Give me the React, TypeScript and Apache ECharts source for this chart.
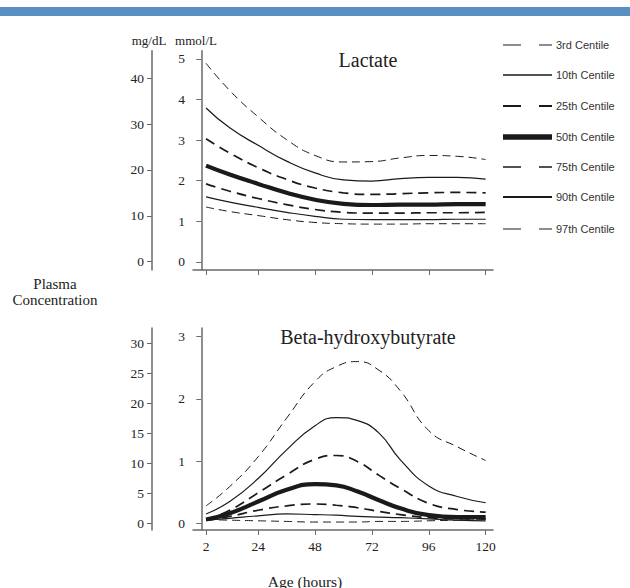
import React, { useEffect, useRef } from "react";
import * as echarts from "echarts";

const lacHours = [2, 12, 24, 36, 48, 60, 72, 84, 96, 108, 120];
const bhbHours = [2, 12, 24, 36, 48, 57, 66, 75, 84, 96, 108, 120];
const xTicks = [2, 24, 48, 72, 96, 120];
const centileNames = ["3rd Centile", "10th Centile", "25th Centile", "50th Centile", "75th Centile", "90th Centile", "97th Centile"];

// Lactate (mmol/L)
const lac3 = [1.35, 1.24, 1.14, 1.04, 0.97, 0.94, 0.93, 0.93, 0.94, 0.94, 0.94];
const lac10 = [1.6, 1.47, 1.34, 1.22, 1.12, 1.05, 1.04, 1.04, 1.04, 1.05, 1.05];
const lac25 = [1.92, 1.74, 1.56, 1.41, 1.29, 1.22, 1.2, 1.2, 1.21, 1.21, 1.22];
const lac50 = [2.37, 2.15, 1.92, 1.7, 1.53, 1.43, 1.4, 1.41, 1.41, 1.42, 1.42];
const lac75 = [3.03, 2.68, 2.32, 2.03, 1.82, 1.7, 1.66, 1.68, 1.7, 1.71, 1.7];
const lac90 = [3.79, 3.3, 2.87, 2.48, 2.19, 2.02, 1.99, 2.05, 2.08, 2.08, 2.04];
const lac97 = [4.89, 4.22, 3.57, 3.01, 2.62, 2.46, 2.47, 2.56, 2.62, 2.6, 2.52];

// Beta-hydroxybutyrate (mmol/L)
const bhb3 = [0.06, 0.05, 0.04, 0.03, 0.02, 0.02, 0.02, 0.03, 0.03, 0.04, 0.05, 0.06];
const bhb10 = [0.05, 0.08, 0.12, 0.15, 0.14, 0.13, 0.11, 0.1, 0.09, 0.07, 0.05, 0.04];
const bhb25 = [0.05, 0.11, 0.21, 0.28, 0.31, 0.29, 0.25, 0.19, 0.14, 0.09, 0.07, 0.07];
const bhb50 = [0.06, 0.16, 0.35, 0.54, 0.63, 0.61, 0.51, 0.37, 0.24, 0.13, 0.1, 0.1];
const bhb75 = [0.06, 0.21, 0.49, 0.78, 1.03, 1.09, 0.99, 0.77, 0.56, 0.32, 0.22, 0.18];
const bhb90 = [0.15, 0.35, 0.72, 1.18, 1.57, 1.7, 1.65, 1.45, 1.02, 0.6, 0.43, 0.33];
const bhb97 = [0.28, 0.59, 1.07, 1.69, 2.28, 2.52, 2.6, 2.46, 2.13, 1.49, 1.23, 1.01];

const lacMmolTicks = [0, 1, 2, 3, 4, 5];
const lacMgTicks = [0, 10, 20, 30, 40];
const bhbMmolTicks = [0, 1, 2, 3];
const bhbMgTicks = [0, 5, 10, 15, 20, 25, 30];

const lactate = [lac3, lac10, lac25, lac50, lac75, lac90, lac97];
const bhb = [bhb3, bhb10, bhb25, bhb50, bhb75, bhb90, bhb97];

const SERIF_NAME = "Liberation Serif";
const SERIF = '"Liberation Serif", "Times New Roman", serif';
const SANS = '"Liberation Sans", Arial, sans-serif';
const LINE = "#1a1a1a";
const AXIS = "#6a6a6a";

const widths = [1, 1.2, 1.7, 4.2, 1.7, 1.2, 1];
const types: any[] = [[8, 5], "solid", [10, 6], "solid", [10, 6], "solid", [8, 5]];
const legendWidths = [1, 1.5, 2, 5.5, 1.5, 2, 1];
const legendTypes: any[] = [[18, 18], null, [18, 18], null, [18, 18], null, [18, 18]];
const legendY = [45, 75, 106, 137, 167, 197, 229];

function yAxisBase(gridIndex: number, min: number, max: number, ticks: number[], offset: number) {
  return {
    type: "value",
    gridIndex,
    position: "left",
    offset,
    min,
    max,
    splitLine: { show: false },
    axisLine: { show: true, lineStyle: { color: AXIS, width: 1.5 } },
    axisTick: { show: true, length: 5, lineStyle: { color: AXIS, width: 1 }, customValues: ticks },
    axisLabel: { show: true, margin: 8, color: "#222", fontFamily: SERIF_NAME, fontSize: 13.5, customValues: ticks },
  };
}

function xAxisBase(gridIndex: number, showLabels: boolean) {
  return {
    type: "value",
    gridIndex,
    min: -3.5,
    max: 123.1,
    splitLine: { show: false },
    axisLine: { show: true, onZero: false, lineStyle: { color: AXIS, width: 1.5 } },
    axisTick: { show: true, length: 5, lineStyle: { color: AXIS, width: 1 }, customValues: xTicks },
    axisLabel: { show: showLabels, margin: 9, color: "#222", fontFamily: SERIF_NAME, fontSize: 13.5, customValues: xTicks },
  };
}

export default function App() {
  const ref = useRef<HTMLDivElement>(null);
  useEffect(() => {
    if (!ref.current) return;
    const chart = echarts.init(ref.current, null, { renderer: "svg" });
    const series: any[] = [];
    lactate.forEach((vals, i) => {
      series.push({
        type: "line",
        name: "Lactate " + centileNames[i],
        xAxisIndex: 0,
        yAxisIndex: 0,
        smooth: 0.5,
        showSymbol: false,
        silent: true,
        data: lacHours.map((h, k) => [h, vals[k]]),
        lineStyle: { color: LINE, width: widths[i], type: types[i] },
      });
    });
    bhb.forEach((vals, i) => {
      series.push({
        type: "line",
        name: "BHB " + centileNames[i],
        xAxisIndex: 1,
        yAxisIndex: 2,
        smooth: 0.5,
        showSymbol: false,
        silent: true,
        data: bhbHours.map((h, k) => [h, vals[k]]),
        lineStyle: { color: LINE, width: widths[i], type: types[i] },
      });
    });
    series.push({ type: "line", xAxisIndex: 0, yAxisIndex: 1, data: [], showSymbol: false });
    series.push({ type: "line", xAxisIndex: 1, yAxisIndex: 3, data: [], showSymbol: false });

    const graphics: any[] = [
      { type: "rect", shape: { x: 0, y: 7, width: 630, height: 9 }, style: { fill: "#5a8fc3" }, silent: true },
      { type: "text", x: 149, y: 40, style: { text: "mg/dL", font: `13px ${SERIF}`, fill: "#222", align: "center", verticalAlign: "middle" } },
      { type: "text", x: 196, y: 40, style: { text: "mmol/L", font: `13px ${SERIF}`, fill: "#222", align: "center", verticalAlign: "middle" } },
      { type: "text", x: 368, y: 60, style: { text: "Lactate", font: `20px ${SERIF}`, fill: "#222", align: "center", verticalAlign: "middle" } },
      { type: "text", x: 368, y: 337, style: { text: "Beta-hydroxybutyrate", font: `20px ${SERIF}`, fill: "#222", align: "center", verticalAlign: "middle" } },
      { type: "text", x: 55, y: 284, style: { text: "Plasma", font: `15px ${SERIF}`, fill: "#222", align: "center", verticalAlign: "middle" } },
      { type: "text", x: 55, y: 300, style: { text: "Concentration", font: `15px ${SERIF}`, fill: "#222", align: "center", verticalAlign: "middle" } },
      { type: "text", x: 305, y: 581, style: { text: "Age (hours)", font: `15.5px ${SERIF}`, fill: "#222", align: "center", verticalAlign: "middle" } },
    ];
    centileNames.forEach((name, i) => {
      const style: any = { stroke: LINE, lineWidth: legendWidths[i] };
      if (legendTypes[i]) style.lineDash = legendTypes[i];
      graphics.push({ type: "line", shape: { x1: 503, y1: legendY[i], x2: 552, y2: legendY[i] }, style, silent: true });
      graphics.push({ type: "text", x: 556, y: legendY[i], style: { text: name, font: `11px ${SANS}`, fill: "#333", align: "left", verticalAlign: "middle" } });
    });

    chart.setOption({
      animation: false,
      backgroundColor: "#fff",
      grid: [
        { left: 193, top: 50.7, width: 300, height: 219.3 },
        { left: 193, top: 328, width: 300, height: 202 },
      ],
      xAxis: [xAxisBase(0, false), xAxisBase(1, true)],
      yAxis: [
        yAxisBase(0, -0.2, 5.2, lacMmolTicks, 0),
        yAxisBase(0, -1.8, 46.0, lacMgTicks, 41),
        yAxisBase(1, -0.108, 3.14, bhbMmolTicks, 0),
        yAxisBase(1, -1.12, 32.55, bhbMgTicks, 41),
      ],
      series,
      graphic: graphics,
    });
    return () => chart.dispose();
  }, []);
  return <div ref={ref} style={{ position: "fixed", left: 0, top: 0, width: 630, height: 588 }} />;
}
